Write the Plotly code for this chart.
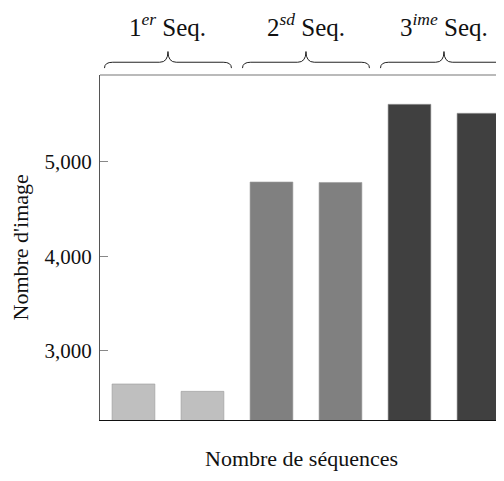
import plotly.graph_objects as go

# bar data
positions = [0, 1, 2, 3, 4, 5]
images = [2648, 2570, 4785, 4780, 5607, 5512]
bar_colors = ["#bfbfbf", "#bfbfbf", "#808080", "#808080", "#404040", "#404040"]

# sequence groups (pair of bars each)
groups = [(0, 1), (2, 3), (4, 5)]
group_labels = ["1<sup><i>er</i></sup> Seq.", "2<sup><i>sd</i></sup> Seq.", "3<sup><i>ime</i></sup> Seq."]

serif = "Liberation Serif, DejaVu Serif, serif"

fig = go.Figure()
fig.add_trace(go.Bar(
    x=positions, y=images, width=0.62,
    marker=dict(color=bar_colors, line=dict(color="#9a9a9a", width=0.6)),
    showlegend=False,
))


def brace_path(x0, x1, y_end, y_mid, y_tip, d=0.12):
    xm = (x0 + x1) / 2
    return (f"M {x0},{y_end} Q {x0},{y_mid} {x0 + d},{y_mid} "
            f"L {xm - d},{y_mid} Q {xm},{y_mid} {xm},{y_tip} "
            f"Q {xm},{y_mid} {xm + d},{y_mid} "
            f"L {x1 - d},{y_mid} Q {x1},{y_mid} {x1},{y_end}")


for (a, b), lab in zip(groups, group_labels):
    c = (a + b) / 2
    fig.add_shape(type="path", xref="x", yref="paper",
                  path=brace_path(c - 0.92, c + 0.92, 1.020, 1.037, 1.068),
                  line=dict(color="#222", width=1))
    fig.add_annotation(x=c, y=1.145, xref="x", yref="paper", text=lab,
                       xanchor="center", yanchor="middle", showarrow=False,
                       font=dict(family=serif, size=25, color="#111"))

# top border of the plot box
fig.add_shape(type="line", xref="paper", yref="paper", x0=0, x1=1, y0=1, y1=1,
              line=dict(color="#777", width=1.2))

fig.add_annotation(x=-0.1995, y=0.5, xref="paper", yref="paper", text="Nombre d'image",
                   textangle=-90, xanchor="center", yanchor="middle", showarrow=False,
                   font=dict(family=serif, size=22, color="#111"))
fig.add_annotation(x=0.51, y=-0.112, xref="paper", yref="paper", text="Nombre de séquences",
                   xanchor="center", yanchor="middle", showarrow=False,
                   font=dict(family=serif, size=22, color="#111"))

# the page keeps an 8px body margin, so the figure is sized to fit inside it
fig.update_layout(
    width=488, height=465,
    margin=dict(l=92, r=0, t=67, b=53),
    plot_bgcolor="white", paper_bgcolor="white",
    font=dict(family=serif, size=21, color="#111"),
    xaxis=dict(range=[-0.485, 5.254], showticklabels=False, ticks="", showgrid=False,
               zeroline=False, showline=True, linecolor="#111", linewidth=1.2),
    yaxis=dict(range=[2267, 5917], tickvals=[3000, 4000, 5000], tickformat=",",
               ticks="inside", ticklen=8, tickcolor="#888", showgrid=False, zeroline=False,
               showline=True, linecolor="#555", linewidth=1.2, ticklabelstandoff=3),
)

fig.write_html("out.html")
